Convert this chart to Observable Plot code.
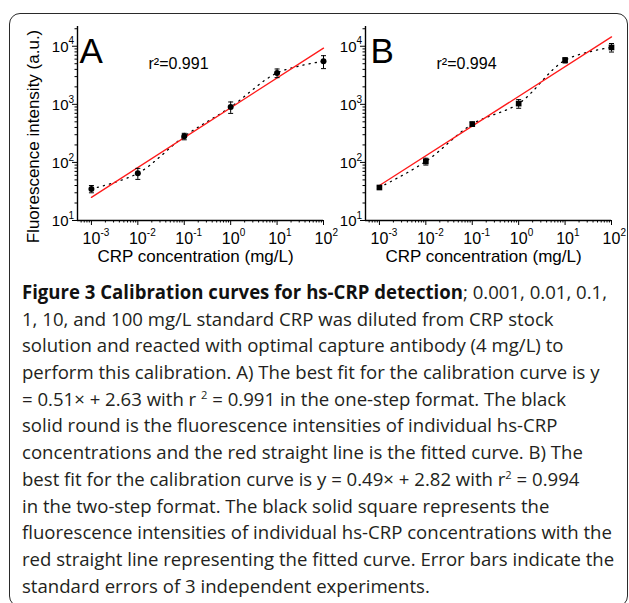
<!DOCTYPE html>
<html>
<head>
<meta charset="utf-8">
<script src="https://cdn.jsdelivr.net/npm/d3@7"></script>
<script src="https://cdn.jsdelivr.net/npm/@observablehq/plot@0.6"></script>
<style>
  html, body { margin: 0; padding: 0; background: #fff; }
  #root { position: relative; width: 629px; height: 603px; overflow: hidden; }
  #frame { position: absolute; left: 9px; top: 13px; width: 619px; height: 594px; box-sizing: border-box;
           border: 1.5px solid #2a2a2a; border-radius: 11px; }
  .panel { position: absolute; top: 0; }
  #cap { position: absolute; left: 22px; top: 279px; font-family: "Open Sans", sans-serif; font-size: 19px;
         line-height: 26.7px; color: #231f20; white-space: nowrap; transform-origin: 0 0; }
  #cap div { height: 26.7px; }
  #cap b { font-weight: 700; color: #111; }
  #cap sup { font-size: 0.6em; line-height: 0; vertical-align: baseline; position: relative; top: -0.6em; }
</style>
</head>
<body>
<div id="root">
  <div id="frame"></div>
  <div id="pa" class="panel" style="left:0px"></div>
  <div id="pb" class="panel" style="left:288px"></div>
  <div id="cap"></div>
</div>
<script>
// ---- data ----
const conc = [0.001, 0.01, 0.1, 1, 10, 100];
const intensityA = [35, 65, 281, 898, 3470, 5500];
const errorA = [5, 14, 36, 200, 590, 1380];
const intensityB = [37, 104, 457, 1030, 5750, 9550];
const errorB = [2, 14, 37, 175, 600, 1600];
const fitConc = [0.001, 100];
const fitA = [25, 9300];
const fitB = [40, 14500];
const xTicks = [0.001, 0.01, 0.1, 1, 10, 100];
const xExp = ["-3", "-2", "-1", "0", "1", "2"];
const yTicks = [10, 100, 1000, 10000];
const yExp = ["1", "2", "3", "4"];
const panelLetters = ["A", "B"];
const r2Labels = ["r\u00b2=0.991", "r\u00b2=0.994"];
const xTitle = "CRP concentration (mg/L)";
const yTitle = "Fluorescence intensity (a.u.)";

const xMinor = [];
for (let e = -4; e <= 2; e++) for (let m = 2; m <= 9; m++) { const v = m * Math.pow(10, e); if (v > Math.pow(10, -3.3) && v < 100) xMinor.push(v); }
const yMinor = [];
for (let e = 1; e <= 4; e++) for (let m = 2; m <= 9; m++) { const v = m * Math.pow(10, e); if (v < Math.pow(10, 4.34)) yMinor.push(v); }

const capSymbol = { draw(ctx) { ctx.moveTo(-2.5, 0); ctx.lineTo(2.5, 0); } };

function panel(vals, errs, fit, letter, r2, symbol, letterDx, showYTitle) {
  const data = conc.map((c, i) => ({ c, v: vals[i], lo: vals[i] - errs[i], hi: vals[i] + errs[i] }));
  const fitData = fitConc.map((c, i) => ({ c, v: fit[i] }));
  const xMin = Math.pow(10, -3.3);
  return Plot.plot({
    width: 340, height: 270,
    marginLeft: 77, marginRight: 17, marginTop: 26, marginBottom: 50,
    x: { type: "log", domain: [xMin, 100], axis: null },
    y: { type: "log", domain: [10, Math.pow(10, 4.34)], axis: null },
    style: { background: "transparent", color: "black", fontFamily: "'Liberation Sans', Arial, sans-serif", overflow: "visible" },
    marks: [
      Plot.axisX(xMinor, { tickSize: 2.5, tickFormat: () => "", label: null, stroke: "black" }),
      Plot.axisX(xTicks, { tickSize: 5, tickFormat: () => "", label: null, stroke: "black" }),
      Plot.axisY(yMinor, { tickSize: 2.5, tickFormat: () => "", label: null, stroke: "black" }),
      Plot.axisY(yTicks, { tickSize: 5, tickFormat: () => "", label: null, stroke: "black" }),
      Plot.ruleX([xMin], { stroke: "black", strokeWidth: 1.4 }),
      Plot.ruleY([10], { stroke: "black", strokeWidth: 1.4 }),
      Plot.text(xTicks, { x: d => d, text: () => "10", frameAnchor: "bottom", dy: 23, fontSize: 16, textAnchor: "middle" }),
      Plot.text(xTicks, { x: d => d, text: (d, i) => xExp[i], frameAnchor: "bottom", dy: 15, dx: 9, fontSize: 10, textAnchor: "start" }),
      Plot.text(yTicks, { y: d => d, text: () => "10", frameAnchor: "left", dx: -9, dy: 1, fontSize: 15, textAnchor: "end" }),
      Plot.text(yTicks, { y: d => d, text: (d, i) => yExp[i], frameAnchor: "left", dx: -9, dy: -5, fontSize: 10, textAnchor: "start" }),
      Plot.text([xTitle], { frameAnchor: "bottom", dx: -5, dy: 41, fontSize: 17, textAnchor: "middle" }),
      showYTitle ? Plot.text([yTitle], { frameAnchor: "left", dx: -44, dy: 13, rotate: -90, fontSize: 17, textAnchor: "middle" }) : null,
      Plot.text([letter], { frameAnchor: "top-left", dx: letterDx, dy: 36, fontSize: 35, textAnchor: "start", lineAnchor: "bottom" }),
      Plot.text([r2], { frameAnchor: "top-left", dx: 71, dy: 42, fontSize: 16, textAnchor: "start", lineAnchor: "bottom" }),
      Plot.line(data, { x: "c", y: "v", stroke: "black", strokeWidth: 1.3, strokeDasharray: "1.2 5", curve: "catmull-rom" }),
      Plot.line(fitData, { x: "c", y: "v", stroke: "#ff1a1a", strokeWidth: 1.3 }),
      Plot.ruleX(data, { x: "c", y1: "lo", y2: "hi", stroke: "black", strokeWidth: 1 }),
      Plot.dot(data, { x: "c", y: "lo", symbol: capSymbol, r: 2, stroke: "black", strokeWidth: 1, fill: "none" }),
      Plot.dot(data, { x: "c", y: "hi", symbol: capSymbol, r: 2, stroke: "black", strokeWidth: 1, fill: "none" }),
      Plot.dot(data, { x: "c", y: "v", symbol, r: symbol === "square" ? 3.2 : 3, fill: "black", stroke: "none" })
    ]
  });
}

document.getElementById("pa").appendChild(panel(intensityA, errorA, fitA, panelLetters[0], r2Labels[0], "circle", 2, true));
document.getElementById("pb").appendChild(panel(intensityB, errorB, fitB, panelLetters[1], r2Labels[1], "square", 5, false));

// ---- caption ----
const captionLines = [
  "<b>Figure 3 Calibration curves for hs-CRP detection</b>; 0.001, 0.01, 0.1,",
  "1, 10, and 100 mg/L standard CRP was diluted from CRP stock",
  "solution and reacted with optimal capture antibody (4 mg/L) to",
  "perform this calibration. A) The best fit for the calibration curve is y",
  "= 0.51\u00d7 + 2.63 with r <sup>2</sup> = 0.991 in the one-step format. The black",
  "solid round is the fluorescence intensities of individual hs-CRP",
  "concentrations and the red straight line is the fitted curve. B) The",
  "best fit for the calibration curve is y = 0.49\u00d7 + 2.82 with r<sup>2</sup> = 0.994",
  "in the two-step format. The black solid square represents the",
  "fluorescence intensities of individual hs-CRP concentrations with the",
  "red straight line representing the fitted curve. Error bars indicate the",
  "standard errors of 3 independent experiments."
];
const cap = document.getElementById("cap");
cap.innerHTML = captionLines.map(l => `<div><span>${l}</span></div>`).join("");
const w1 = cap.querySelector("span").getBoundingClientRect().width;
cap.style.transform = `scaleX(${585 / w1})`;
</script>
</body>
</html>
